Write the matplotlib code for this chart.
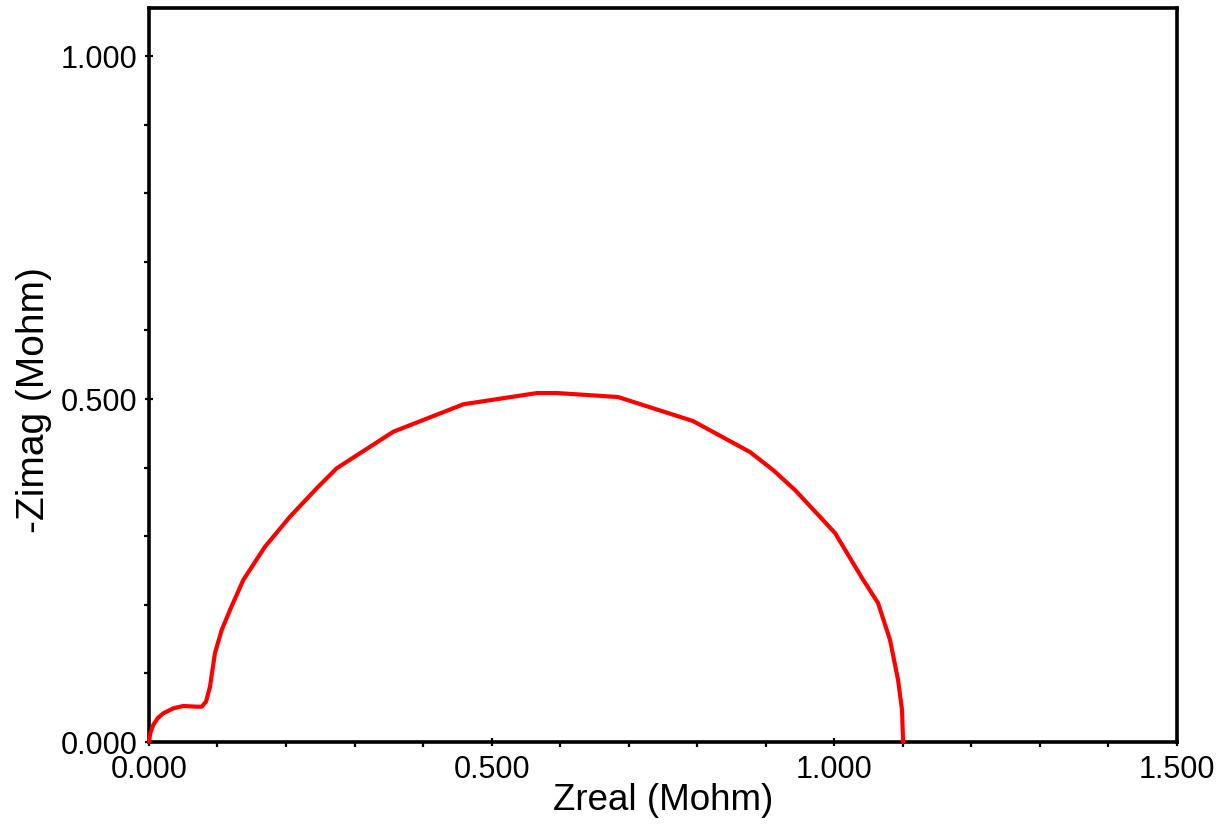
import matplotlib
matplotlib.use("Agg")
import matplotlib.pyplot as plt
from matplotlib.ticker import MultipleLocator, FormatStrFormatter

plt.rcParams['font.family'] = ['Liberation Sans', 'DejaVu Sans']

# Nyquist data: real and negative imaginary impedance (Mohm)
z_real = [0.0, 0.0020, 0.0063, 0.0130, 0.0209, 0.0355, 0.0501, 0.0696, 0.0769,
          0.0832, 0.0890, 0.0963, 0.1061, 0.1182, 0.1376, 0.1693, 0.2057,
          0.2447, 0.2739, 0.3565, 0.4586, 0.5662, 0.5954, 0.6844, 0.7938,
          0.8770, 0.9106, 0.9427, 1.0010, 1.0404, 1.0638, 1.0813, 1.0930,
          1.0988, 1.1003]
z_imag = [0.0, 0.0130, 0.0250, 0.0350, 0.0418, 0.0491, 0.0525, 0.0515, 0.0515,
          0.0587, 0.0806, 0.1297, 0.1633, 0.1924, 0.2362, 0.2847, 0.3284,
          0.3698, 0.3990, 0.4523, 0.4923, 0.5087, 0.5087, 0.5029, 0.4679,
          0.4227, 0.3965, 0.3673, 0.3047, 0.2391, 0.2026, 0.1487, 0.0904,
          0.0466, 0.0]

x_label = "Zreal (Mohm)"
y_label = "-Zimag (Mohm)"

fig = plt.figure(figsize=(12.24, 8.25), dpi=100)
ax = fig.add_axes([0.1217, 0.1006, 0.8399, 0.8897])

ax.plot(z_real, z_imag, color='#ff0000', lw=3.0, solid_joinstyle='round',
        solid_capstyle='round', clip_on=False, zorder=3)

ax.set_xlim(0, 1.5)
ax.set_ylim(0, 1.07)

ax.xaxis.set_major_locator(MultipleLocator(0.5))
ax.xaxis.set_minor_locator(MultipleLocator(0.1))
ax.yaxis.set_major_locator(MultipleLocator(0.5))
ax.yaxis.set_minor_locator(MultipleLocator(0.1))
ax.xaxis.set_major_formatter(FormatStrFormatter('%.3f'))
ax.yaxis.set_major_formatter(FormatStrFormatter('%.3f'))

for s in ax.spines.values():
    s.set_linewidth(2.6)
    s.set_color('black')

ax.tick_params(which='major', direction='inout', length=6, width=1.6,
               labelsize=22, pad=6, colors='black')
ax.tick_params(which='minor', direction='out', length=3.6, width=1.6)
ax.tick_params(axis='y', which='major', pad=5)

ax.set_xlabel(x_label, fontsize=26.5, va='center')
ax.set_ylabel(y_label, fontsize=28, va='center')
ax.xaxis.set_label_coords(0.5, -0.080)
ax.yaxis.set_label_coords(-0.112, 0.466)

fig.savefig("out.png", dpi=100)
